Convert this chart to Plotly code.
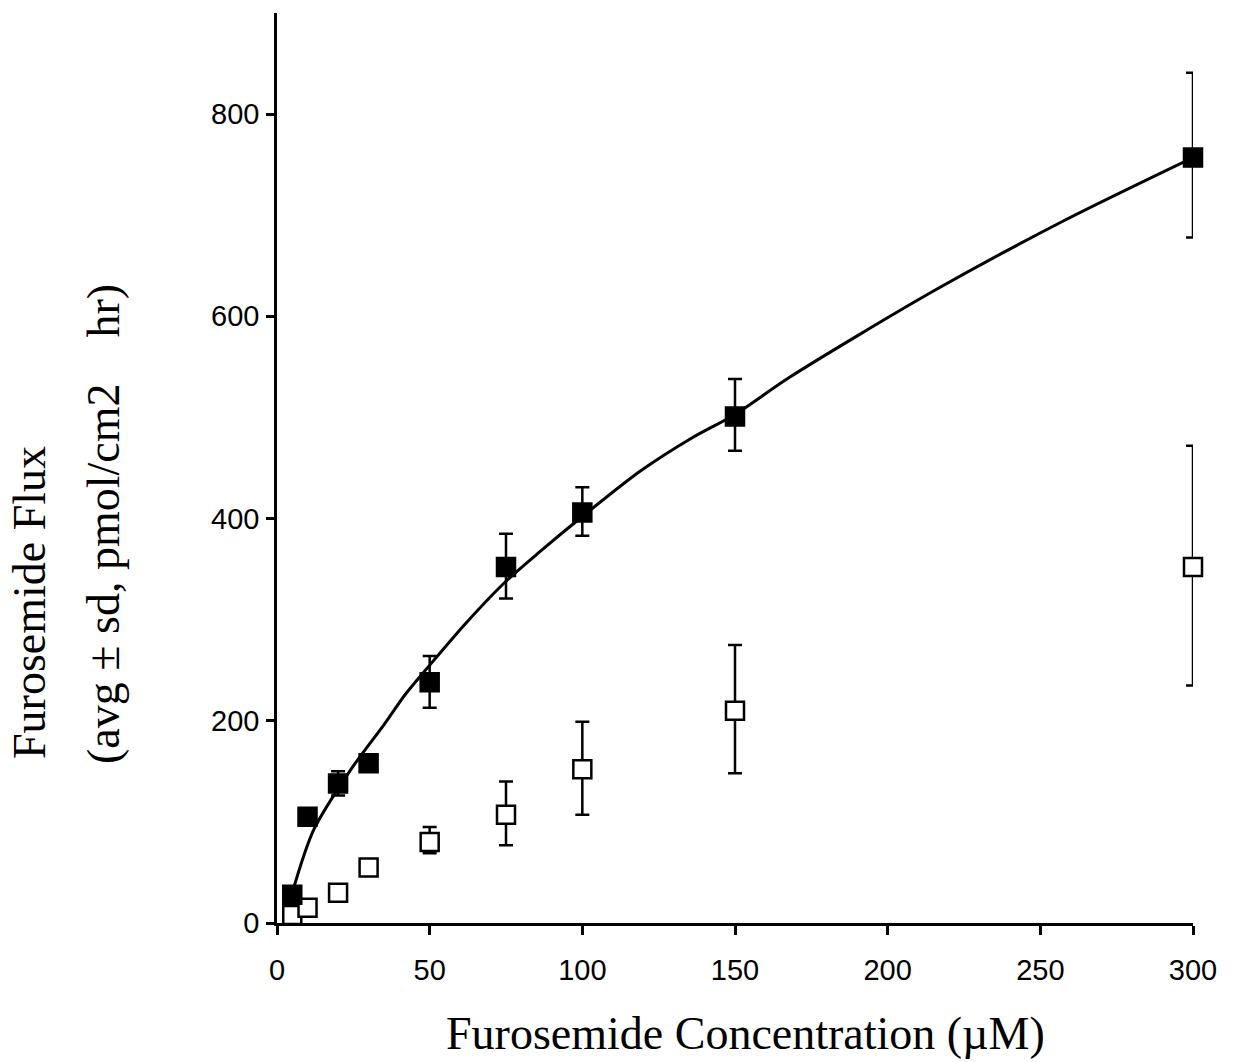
import plotly.graph_objects as go

# Data
conc = [5, 10, 20, 30, 50, 75, 100, 150, 300]

flux_filled = [28, 105, 138, 158, 238, 352, 406, 501, 757]
sd_filled_up = [5, 6, 12, 5, 26, 33, 25, 37, 84]
sd_filled_dn = [5, 6, 12, 5, 25, 31, 23, 34, 79]

flux_open = [8, 15, 30, 55, 80, 107, 152, 210, 352]
sd_open_up = [3, 3, 4, 5, 15, 33, 47, 65, 120]
sd_open_dn = [3, 3, 4, 5, 11, 30, 45, 62, 117]

fit_x = [5, 12, 24, 35, 42, 50, 62, 75, 86, 100, 119, 136, 150, 168, 215, 258, 300]
fit_y = [30, 92, 151, 196, 226, 255, 297, 338, 367, 402, 447, 480, 503, 540, 625, 695, 757]

x_ticks = [0, 50, 100, 150, 200, 250, 300]
y_ticks = [0, 200, 400, 600, 800]

fig = go.Figure()

fig.add_trace(go.Scatter(
    x=fit_x, y=fit_y, mode="lines",
    line=dict(color="black", width=3, shape="spline", smoothing=0.8),
    hoverinfo="skip", showlegend=False, cliponaxis=False))

fig.add_trace(go.Scatter(
    x=conc, y=flux_open, mode="markers",
    marker=dict(symbol="square", size=18, color="white",
                line=dict(color="black", width=2.5)),
    error_y=dict(type="data", array=sd_open_up, arrayminus=sd_open_dn,
                 symmetric=False, color="black", thickness=2.5, width=7),
    showlegend=False, cliponaxis=False))

fig.add_trace(go.Scatter(
    x=conc, y=flux_filled, mode="markers",
    marker=dict(symbol="square", size=19, color="black",
                line=dict(color="black", width=1.5)),
    error_y=dict(type="data", array=sd_filled_up, arrayminus=sd_filled_dn,
                 symmetric=False, color="black", thickness=2.5, width=7),
    showlegend=False, cliponaxis=False))

L, R, T, B = 277, 46, 13, 139
W, H = 1239, 1062
pw = W - L - R
ph = H - T - B

def px_x(p):
    return (p - L) / pw

def px_y(p):
    return (H - B - p) / ph

serif = "Liberation Serif, Times New Roman, serif"
sans = "Liberation Sans, Arial, sans-serif"

fig.update_layout(
    width=W, height=H,
    margin=dict(l=L, r=R, t=T, b=B, pad=0),
    paper_bgcolor="white", plot_bgcolor="white",
    font=dict(family=sans, size=29, color="black"),
    xaxis=dict(range=[0, 300], tickvals=x_ticks, ticktext=[str(v) for v in x_ticks],
               showgrid=False, zeroline=False, showline=True, linecolor="black",
               linewidth=2.5, ticks="outside", ticklen=9, tickwidth=2.5,
               tickcolor="black", ticklabelstandoff=10,
               tickfont=dict(family=sans, size=29)),
    yaxis=dict(range=[0, 900], tickvals=y_ticks, ticktext=[str(v) for v in y_ticks],
               showgrid=False, zeroline=False, showline=True, linecolor="black",
               linewidth=2.5, ticks="outside", ticklen=8, tickwidth=2.5,
               tickcolor="black", ticklabelstandoff=1,
               tickfont=dict(family=sans, size=29)),
    annotations=[
        dict(text="Furosemide Concentration (\u00b5M)", xref="paper", yref="paper",
             x=px_x(745), y=px_y(1033), xanchor="center", yanchor="middle",
             showarrow=False, font=dict(family=serif, size=46)),
        dict(text="Furosemide Flux", xref="paper", yref="paper",
             x=px_x(30), y=px_y(603), xanchor="center", yanchor="middle",
             textangle=-90, showarrow=False, font=dict(family=serif, size=46)),
        dict(text="(avg \u00b1 sd, pmol/cm2    hr)", xref="paper", yref="paper",
             x=px_x(103), y=px_y(524), xanchor="center", yanchor="middle",
             textangle=-90, showarrow=False, font=dict(family=serif, size=46)),
    ],
)

fig.write_html("out.html")
